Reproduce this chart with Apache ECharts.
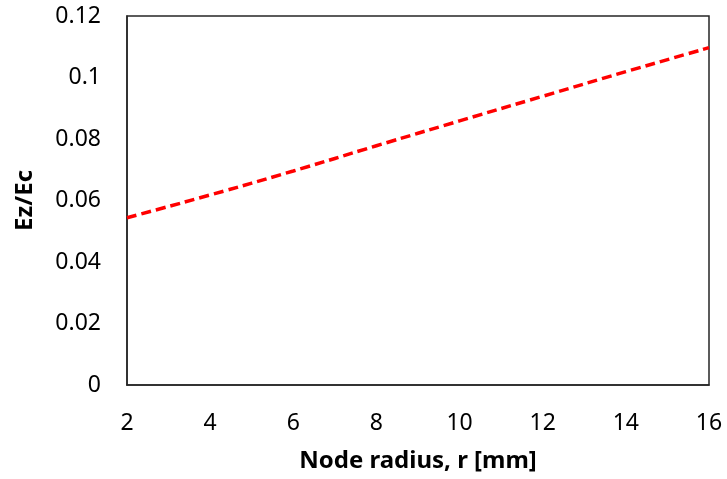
<!DOCTYPE html>
<html>
<head>
<meta charset="utf-8">
<script src="https://cdn.jsdelivr.net/npm/echarts@6/dist/echarts.min.js"></script>
<style>html,body{margin:0;padding:0;background:#fff;}#chart{width:727px;height:479px;}</style>
</head>
<body>
<div id="chart"></div>
<script>
var radius = [2, 4, 6, 8, 10, 12, 14, 16];
var ezEc = [0.0544, 0.0618, 0.0696, 0.0778, 0.0859, 0.0939, 0.1019, 0.1097];
var xTicks = {min: 2, max: 16, interval: 2};
var yTicks = {min: 0, max: 0.12, interval: 0.02};
var xTitle = 'Node radius, r [mm]';
var yTitle = 'Ez/Ec';

var chart = echarts.init(document.getElementById('chart'), null, {renderer: 'canvas'});
var font = 'Noto Sans';
chart.setOption({
  animation: false,
  backgroundColor: '#ffffff',
  grid: {left: 127, right: 18, top: 16, bottom: 94, show: true, borderColor: '#262626', borderWidth: 1.5, backgroundColor: 'transparent'},
  xAxis: {
    type: 'value', min: xTicks.min, max: xTicks.max, interval: xTicks.interval,
    name: xTitle, nameLocation: 'middle', nameGap: 64,
    nameTextStyle: {fontFamily: font, fontSize: 24, fontWeight: 'bold', color: '#000'},
    axisLine: {show: true, lineStyle: {color: '#262626', width: 1.5}},
    axisTick: {show: false}, splitLine: {show: false},
    axisLabel: {fontFamily: font, fontSize: 23, color: '#000', margin: 27}
  },
  yAxis: {
    type: 'value', min: yTicks.min, max: yTicks.max, interval: yTicks.interval,
    name: yTitle, nameLocation: 'middle', nameGap: 90, nameRotate: 90,
    nameTextStyle: {fontFamily: font, fontSize: 24, fontWeight: 'bold', color: '#000'},
    axisLine: {show: true, lineStyle: {color: '#262626', width: 1.5}},
    axisTick: {show: false}, splitLine: {show: false},
    axisLabel: {fontFamily: font, fontSize: 23, color: '#000', margin: 26,
      formatter: function (v) { return String(+v.toFixed(2)); }}
  },
  series: [{
    type: 'line',
    data: radius.map(function (r, i) { return [r, ezEc[i]]; }),
    showSymbol: false,
    smooth: true,
    lineStyle: {color: '#ff0000', width: 3.5, type: [10, 5]}
  }]
});
</script>
</body>
</html>
